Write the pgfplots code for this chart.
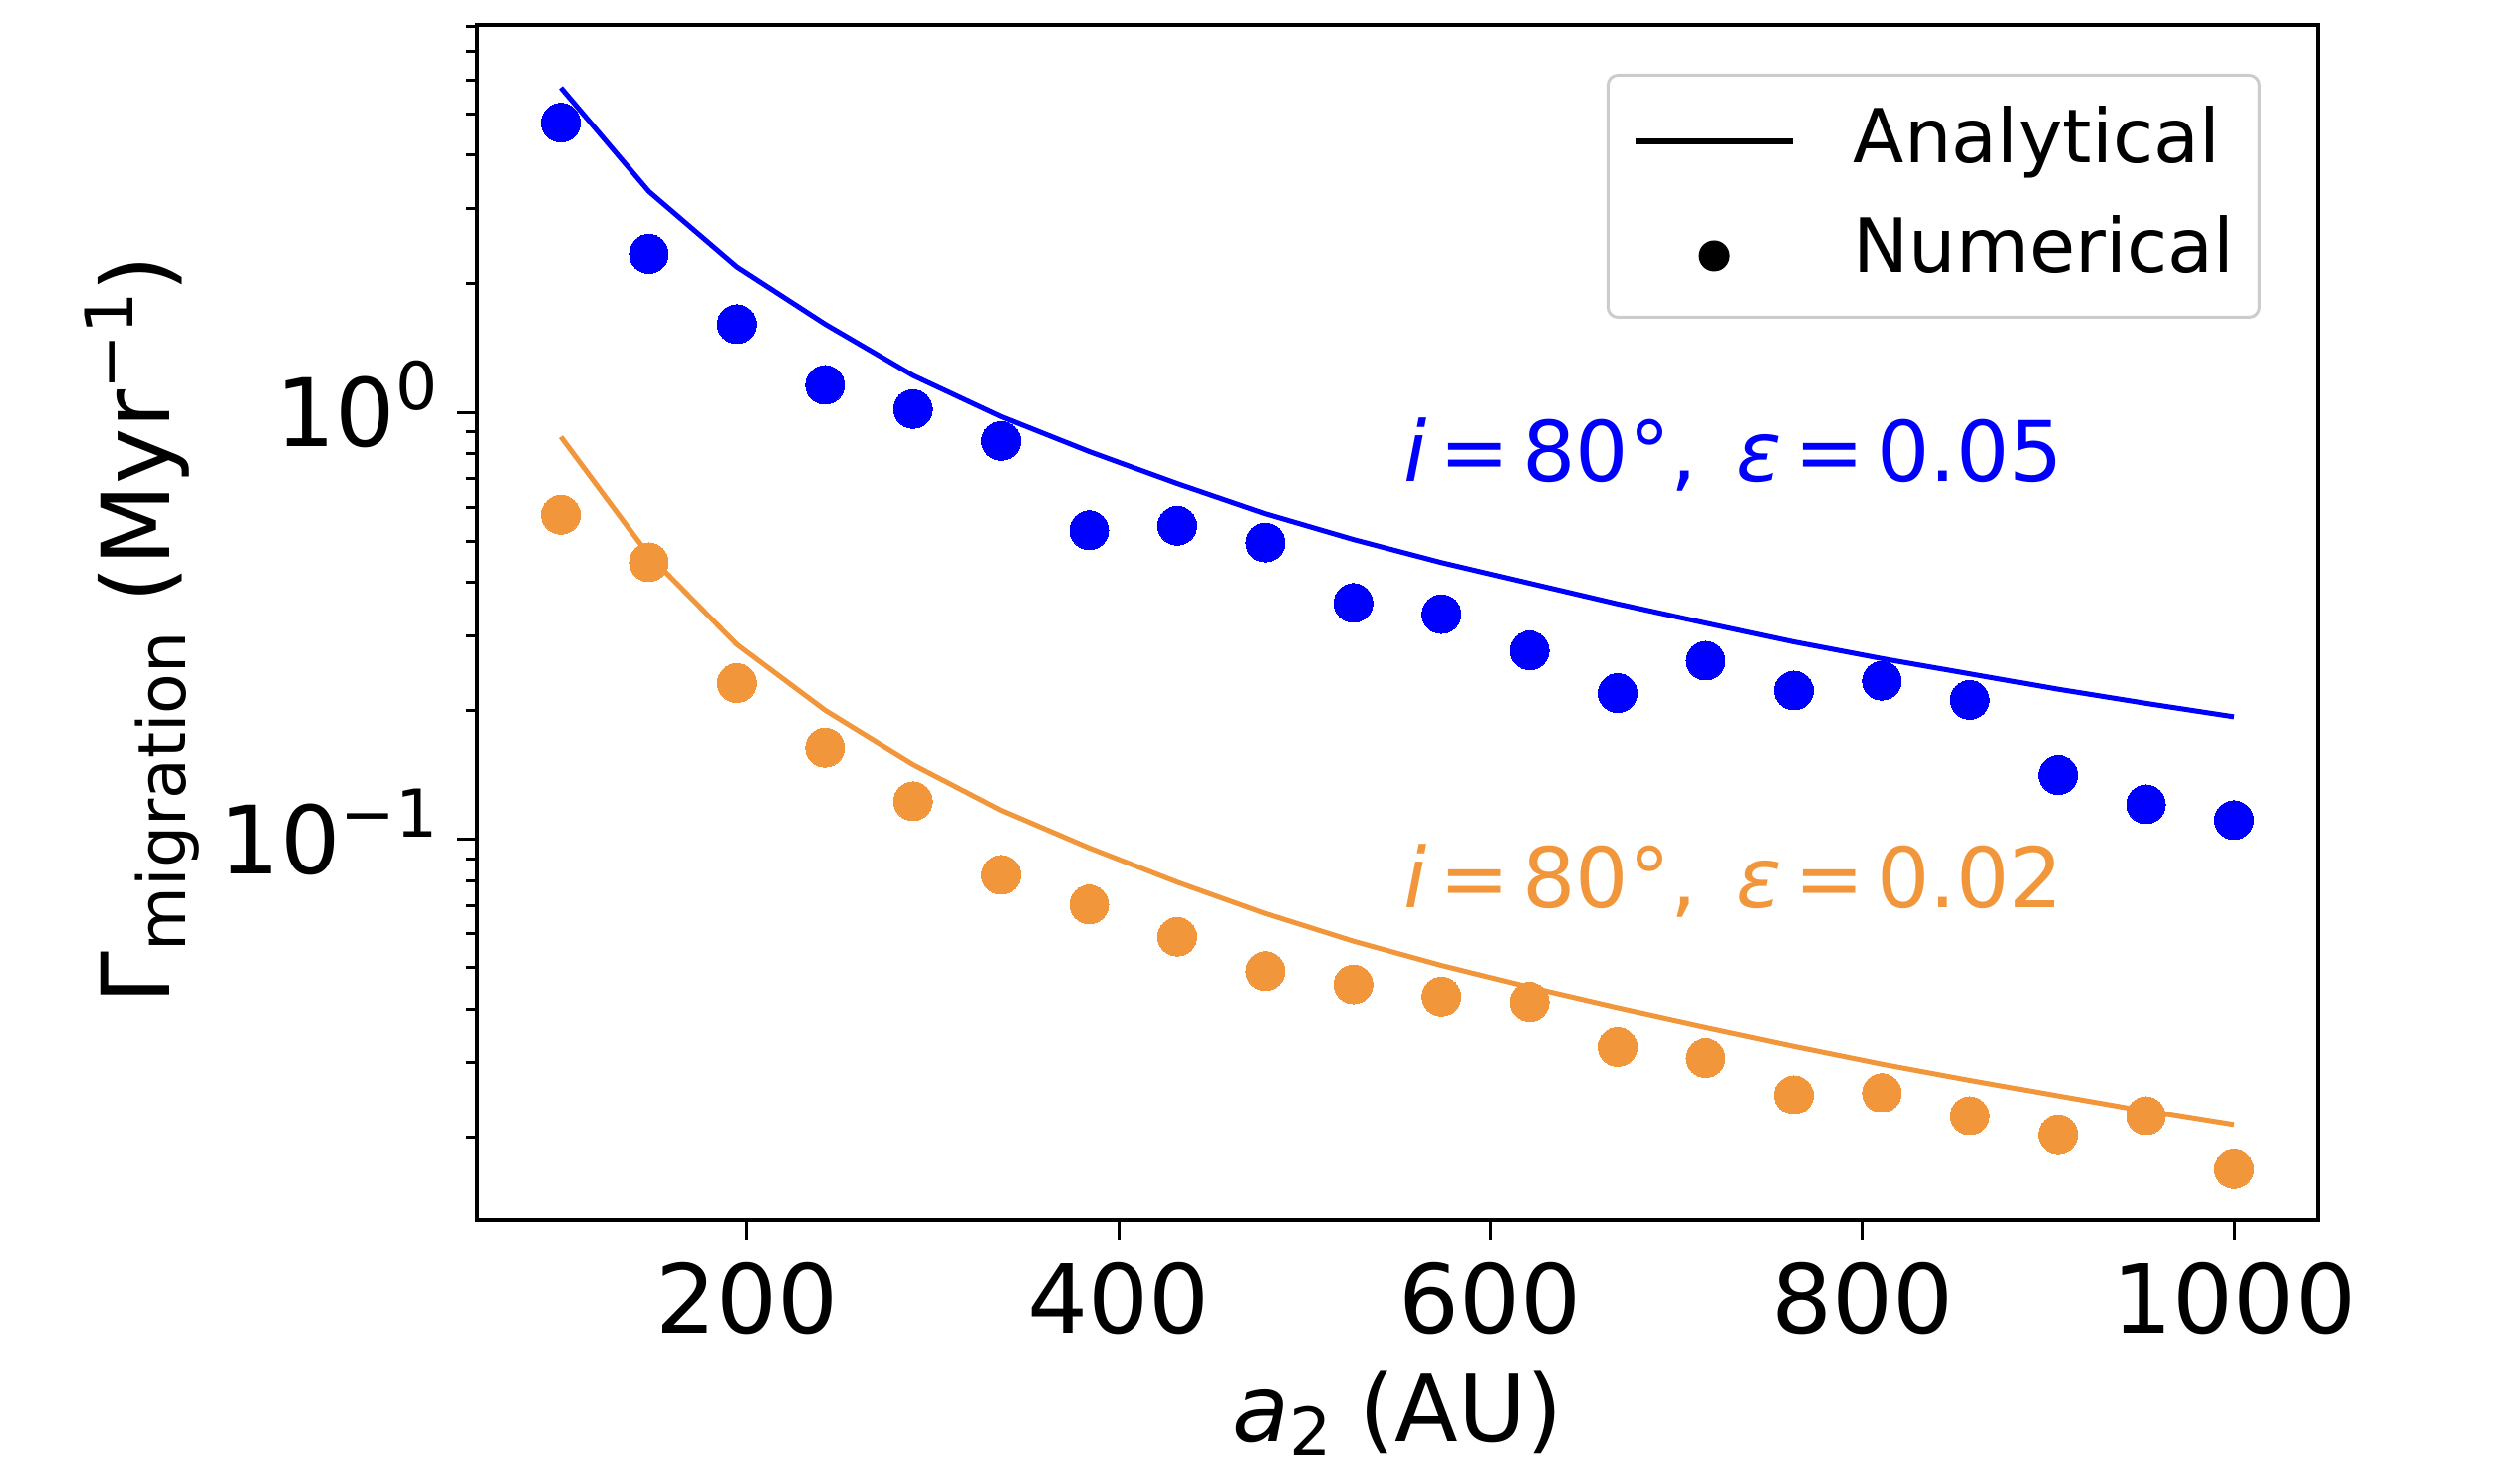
\documentclass[border=0pt]{standalone}
\usepackage{fontspec}
\setmainfont{DejaVu Sans}[ItalicFont={DejaVu Sans Oblique}]
\usepackage{pgfplots}
\pgfplotsset{compat=1.18}
\definecolor{myblue}{RGB}{0,0,255}
\definecolor{myorange}{RGB}{241,150,58}
\definecolor{legframe}{RGB}{204,204,204}
\newcommand{\supr}[1]{\raisebox{3.7pt}{\fontsize{6.65}{6.65}\selectfont #1}}
\newcommand{\subr}[2]{\raisebox{-#1}{\fontsize{6.65}{6.65}\selectfont #2}}

\pgfplotstableread{
x       al     nu
100     5.76   4.77
147.37  3.29   2.35
194.74  2.19   1.61
242.11  1.61   1.16
289.47  1.22   1.018
336.84  0.977  0.857
384.21  0.809  0.530
431.58  0.681  0.543
478.95  0.579  0.496
526.32  0.504  0.358
573.68  0.445  0.337
621.05  0.398  0.277
668.42  0.356  0.220
715.79  0.321  0.262
763.16  0.290  0.223
810.53  0.265  0.235
857.89  0.244  0.212
905.26  0.2245 0.1416
952.63  0.208  0.1209
1000    0.1935 0.1110
}\blue

\pgfplotstableread{
x       al     nu
100     0.876  0.576
147.37  0.463  0.446
194.74  0.286  0.2322
242.11  0.2005 0.164
289.47  0.1497 0.1229
336.84  0.1170 0.0826
384.21  0.0955 0.0704
431.58  0.0794 0.0591
478.95  0.0670 0.0491
526.32  0.0577 0.0457
573.68  0.0506 0.0428
621.05  0.0450 0.0416
668.42  0.0403 0.0327
715.79  0.0363 0.0308
763.16  0.0328 0.0252
810.53  0.0298 0.0255
857.89  0.0273 0.0225
905.26  0.0251 0.0203
952.63  0.0231 0.0225
1000    0.0214 0.0169
}\orange

\begin{document}
\begin{tikzpicture}
\begin{semilogyaxis}[
  name=ax,
  at={(0pt,0pt)}, anchor=south west,
  scale only axis,
  width=184.8pt, height=120pt,
  xmin=55, xmax=1045,
  ymin=0.01283, ymax=8.08,
  axis line style={line width=0.32pt},
  tick pos=left,
  tick align=outside,
  every tick/.style={black, line width=0.3pt},
  major tick length=2pt,
  minor tick length=1.07pt,
  xtick={200,400,600,800,1000},
  xticklabels={200,400,600,800,1000},
  ytick={0.1,1},
  minor ytick={0.02,0.03,0.04,0.05,0.06,0.07,0.08,0.09,0.2,0.3,0.4,0.5,0.6,0.7,0.8,0.9,2,3,4,5,6,7,8},
  yticklabels={10\supr{−1},10\supr{0}},
  xticklabel style={font=\fontsize{9.6}{9.6}\selectfont, anchor=north, inner sep=0pt, yshift=-2pt},
  yticklabel style={font=\fontsize{9.5}{9.5}\selectfont, anchor=base east, inner sep=0pt, xshift=-1.75pt, yshift=-3.45pt},
  xlabel={\textit{a}\subr{1.4pt}{2}\hspace{0.3em}(AU)},
  xlabel style={font=\fontsize{9.3}{9.3}\selectfont, at={(axis description cs:0.5,0)}, anchor=base, inner sep=0pt, yshift=-22.2pt},
  ylabel={Γ\subr{1.56pt}{migration}\hspace{0.3em}(Myr\supr{−1})},
  ylabel style={font=\fontsize{9.5}{9.5}\selectfont, at={(axis description cs:-0.16667,0.494)}, anchor=base, rotate=0, inner sep=0pt},
  legend style={
    at={(rel axis cs:0.9691,0.9592)}, anchor=north east,
    draw=legframe, line width=0.3pt, rounded corners=1pt,
    fill=white,
    inner xsep=2.5pt, inner ysep=3pt,
    font=\fontsize{7.5}{7.5}\selectfont,
    row sep=3.7pt,
    nodes={inner sep=0pt, text height=5.8pt, text depth=1.5pt},
    /tikz/every odd column/.append style={column sep=5.8pt},
  },
  legend cell align=left,
]
\addlegendimage{legend image code/.code={\draw[black, line width=0.55pt] (0pt,0pt) -- (15.8pt,0pt);}}
\addlegendentry{Analytical}
\addlegendimage{legend image code/.code={\path[draw=none] (0pt,0pt) -- (15.8pt,0pt); \fill[black, draw=none] (7.9pt,-0.5pt) circle (1.55pt);}}
\addlegendentry{Numerical}

\addplot[forget plot, myblue, line width=0.5pt, line join=round, mark=none] table[x=x, y=al] {\blue};
\addplot[forget plot, myorange, line width=0.5pt, line join=round, mark=none] table[x=x, y=al] {\orange};
\addplot[forget plot, only marks, mark=*, mark size=1.95pt, mark options={fill=myblue, draw=myblue, line width=0pt}] table[x=x, y=nu] {\blue};
\addplot[forget plot, only marks, mark=*, mark size=1.95pt, mark options={fill=myorange, draw=myorange, line width=0pt}] table[x=x, y=nu] {\orange};

\node[anchor=base west, inner sep=0pt, text=myblue, font=\fontsize{8.4}{8.4}\selectfont] at (rel axis cs:0.5024,0.6183)
  {\textit{i}\hspace{0.15em}=\hspace{0.15em}80°,\hspace{0.47em}\textit{ε}\hspace{0.15em}=\hspace{0.15em}0.05};
\node[anchor=base west, inner sep=0pt, text=myorange, font=\fontsize{8.4}{8.4}\selectfont] at (rel axis cs:0.5024,0.2617)
  {\textit{i}\hspace{0.15em}=\hspace{0.15em}80°,\hspace{0.47em}\textit{ε}\hspace{0.15em}=\hspace{0.15em}0.02};
\end{semilogyaxis}
\pgfresetboundingbox
\path ([shift={(-47.9pt,-26.3pt)}]ax.south west) rectangle ([shift={(20.3pt,2.5pt)}]ax.north east);
\end{tikzpicture}
\end{document}
